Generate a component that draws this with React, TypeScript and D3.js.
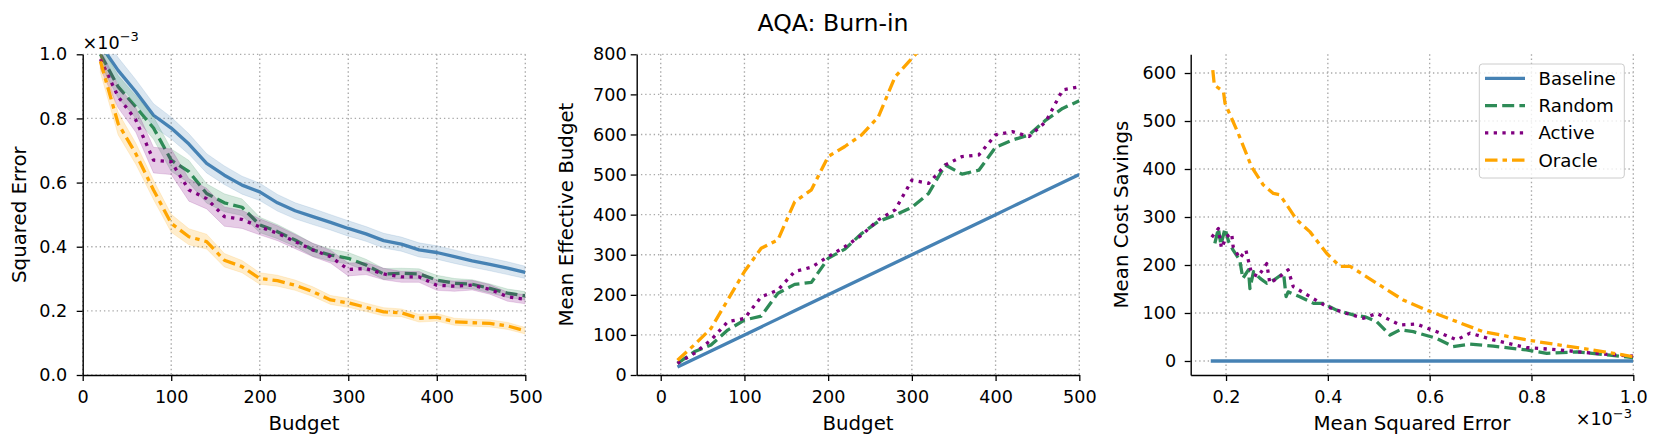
import React, { useEffect, useRef } from "react";
import * as d3 from "d3";

// budget steps (shared x for left and middle panels)
const budget = [20, 40, 60, 80, 100, 120, 140, 160, 180, 200, 220, 240, 260, 280, 300, 320, 340, 360, 380, 400, 420, 440, 460, 480, 500];

// left panel: squared error (x1e-3)
const seBaseline = [1.03, 0.95, 0.883, 0.81, 0.77, 0.72, 0.66, 0.623, 0.592, 0.571, 0.537, 0.512, 0.494, 0.476, 0.457, 0.44, 0.419, 0.408, 0.39, 0.382, 0.369, 0.356, 0.345, 0.333, 0.32];
const seRandom = [1.0, 0.899, 0.836, 0.77, 0.67, 0.634, 0.566, 0.537, 0.523, 0.468, 0.447, 0.421, 0.39, 0.374, 0.364, 0.343, 0.315, 0.317, 0.315, 0.296, 0.286, 0.283, 0.27, 0.255, 0.247];
const seActive = [0.985, 0.868, 0.795, 0.67, 0.665, 0.577, 0.55, 0.494, 0.485, 0.462, 0.442, 0.416, 0.39, 0.369, 0.329, 0.332, 0.315, 0.306, 0.306, 0.28, 0.277, 0.28, 0.267, 0.244, 0.236];
const seOracle = [0.978, 0.784, 0.69, 0.577, 0.473, 0.431, 0.416, 0.358, 0.338, 0.301, 0.294, 0.28, 0.26, 0.234, 0.225, 0.211, 0.197, 0.194, 0.177, 0.18, 0.166, 0.163, 0.161, 0.153, 0.138];

// half-widths of the shaded bands
const errBaseline = [0.04, 0.04, 0.038, 0.036, 0.034, 0.032, 0.03, 0.029, 0.028, 0.027, 0.026, 0.025, 0.025, 0.024, 0.024, 0.023, 0.023, 0.022, 0.022, 0.021, 0.021, 0.02, 0.02, 0.02, 0.019];
const errRandom = [0.03, 0.035, 0.035, 0.035, 0.035, 0.035, 0.03, 0.028, 0.026, 0.024, 0.022, 0.02, 0.02, 0.019, 0.018, 0.018, 0.017, 0.016, 0.016, 0.015, 0.015, 0.014, 0.014, 0.013, 0.013];
const errActive = [0.03, 0.035, 0.038, 0.04, 0.04, 0.035, 0.032, 0.03, 0.028, 0.025, 0.023, 0.022, 0.021, 0.02, 0.02, 0.019, 0.018, 0.017, 0.017, 0.016, 0.016, 0.015, 0.015, 0.014, 0.014];
const errOracle = [0.035, 0.035, 0.033, 0.03, 0.028, 0.025, 0.023, 0.021, 0.019, 0.018, 0.017, 0.016, 0.015, 0.014, 0.014, 0.013, 0.013, 0.012, 0.012, 0.012, 0.011, 0.011, 0.011, 0.011, 0.01];

// middle panel: mean effective budget
const ebBaseline = [20, 40, 60, 80, 100, 120, 140, 160, 180, 200, 220, 240, 260, 280, 300, 320, 340, 360, 380, 400, 420, 440, 460, 480, 500];
const ebRandom = [29, 58, 75, 112, 137, 147, 204, 226, 231, 291, 314, 353, 383, 399, 418, 453, 524, 501, 511, 568, 586, 599, 636, 665, 684];
const ebActive = [29, 54, 87, 133, 141, 195, 212, 258, 269, 295, 320, 349, 387, 412, 486, 478, 524, 545, 549, 599, 607, 595, 632, 711, 719];
const ebOracle = [37, 75, 116, 187, 258, 316, 337, 432, 462, 545, 570, 599, 644, 744, 790, 835];

// right panel: mean cost savings vs mean squared error (x1e-3)
const mseBaseline = [0.17, 1.0];
const csBaseline = [0, 0];
const mseRandom = [0.178, 0.185, 0.19, 0.198, 0.205, 0.214, 0.227, 0.233, 0.244, 0.247, 0.254, 0.267, 0.28, 0.296, 0.313, 0.318, 0.322, 0.345, 0.372, 0.391, 0.417, 0.45, 0.473, 0.496, 0.522, 0.542, 0.568, 0.614, 0.646, 0.679, 0.725, 0.79, 0.83, 0.889, 0.954, 1.0];
const csRandom = [245, 276, 242, 276, 249, 231, 210, 172, 190, 151, 186, 172, 162, 170, 183, 134, 144, 134, 120, 120, 106, 96, 92, 82, 54, 65, 61, 47, 30, 35, 31, 23, 16, 19, 12, 7];
const mseActive = [0.172, 0.185, 0.191, 0.201, 0.211, 0.214, 0.227, 0.239, 0.25, 0.263, 0.28, 0.286, 0.306, 0.322, 0.332, 0.365, 0.398, 0.437, 0.47, 0.496, 0.542, 0.574, 0.614, 0.653, 0.679, 0.725, 0.79, 0.856, 0.921, 1.0];
const csActive = [258, 276, 235, 259, 266, 238, 214, 231, 183, 176, 203, 162, 176, 190, 155, 134, 113, 99, 89, 99, 75, 77, 61, 44, 58, 44, 28, 23, 16, 10];
const mseOracle = [0.174, 0.177, 0.195, 0.198, 0.224, 0.25, 0.273, 0.293, 0.306, 0.339, 0.365, 0.398, 0.424, 0.444, 0.496, 0.548, 0.594, 0.646, 0.705, 0.79, 0.856, 0.921, 1.0];
const csOracle = [606, 575, 561, 537, 474, 405, 367, 349, 346, 294, 269, 224, 197, 197, 162, 127, 106, 85, 61, 44, 33, 23, 9];

const seriesNames = ["Baseline", "Random", "Active", "Oracle"];
const colors = { Baseline: "#4682b4", Random: "#2e8b57", Active: "#800080", Oracle: "#ffa500" };
const dashes = { Baseline: null, Random: "12,5.2", Active: "3.3,5.4", Oracle: "12.5,5,4.5,5" };

const FONT = "DejaVu Sans, sans-serif";
const TOP = 54.3;
const BOTTOM = 375;
const PW = 442.6;

const App = () => {
  const ref = useRef(null);

  useEffect(() => {
    const svg = d3.select(ref.current);
    svg.selectAll("*").remove();

    const drawPanel = (idx, left, xDomain, yDomain, xTicks, yTicks, xFmt, yFmt, yPad) => {
      const x = d3.scaleLinear().domain(xDomain).range([left, left + PW]);
      const y = d3.scaleLinear().domain(yDomain).range([BOTTOM, TOP]);
      const g = svg.append("g");

      svg
        .append("clipPath")
        .attr("id", "clip" + idx)
        .append("rect")
        .attr("x", left)
        .attr("y", TOP)
        .attr("width", PW)
        .attr("height", BOTTOM - TOP);

      // grid
      const grid = g.append("g").attr("stroke", "#a9a9a9").attr("stroke-width", 1.35).attr("stroke-dasharray", "1.35,2.9");
      xTicks.forEach((t) => {
        grid.append("line").attr("x1", x(t)).attr("x2", x(t)).attr("y1", TOP).attr("y2", BOTTOM);
      });
      yTicks.forEach((t) => {
        grid.append("line").attr("x1", left).attr("x2", left + PW).attr("y1", y(t)).attr("y2", y(t));
      });

      const xAxis = d3.axisBottom(x).tickValues(xTicks).tickFormat(xFmt).tickSize(6).tickSizeOuter(0).tickPadding(9.5);
      const yAxis = d3.axisLeft(y).tickValues(yTicks).tickFormat(yFmt).tickSize(6).tickSizeOuter(0).tickPadding(yPad);

      const ax = svg.append("g").attr("transform", `translate(0,${BOTTOM})`).call(xAxis);
      const ay = svg.append("g").attr("transform", `translate(${left},0)`).call(yAxis);
      [ax, ay].forEach((a) => {
        a.attr("font-family", FONT).attr("font-size", 17.6);
        a.selectAll("text").attr("fill", "#000");
        a.selectAll("line").attr("stroke", "#000").attr("stroke-width", 1.3);
        a.select(".domain").attr("stroke", "#000").attr("stroke-width", 1.4);
      });

      const plot = svg.append("g").attr("clip-path", `url(#clip${idx})`);
      return { x, y, plot };
    };

    const drawLine = (p, xs, ys, name) => {
      const line = d3
        .line()
        .x((d) => p.x(d[0]))
        .y((d) => p.y(d[1]));
      p.plot
        .append("path")
        .attr("d", line(xs.map((v, i) => [v, ys[i]])))
        .attr("fill", "none")
        .attr("stroke", colors[name])
        .attr("stroke-width", 3.3)
        .attr("stroke-dasharray", dashes[name])
        .attr("stroke-linejoin", "round");
    };

    const drawBand = (p, xs, ys, err, name) => {
      const area = d3
        .area()
        .x((d, i) => p.x(xs[i]))
        .y0((d, i) => p.y(ys[i] - err[i]))
        .y1((d, i) => p.y(ys[i] + err[i]));
      p.plot
        .append("path")
        .attr("d", area(xs))
        .attr("fill", colors[name])
        .attr("fill-opacity", 0.2)
        .attr("stroke", colors[name])
        .attr("stroke-opacity", 0.15);
    };

    const f1 = d3.format(".1f");
    const f0 = d3.format("d");

    // left panel
    const p1 = drawPanel(0, 82.7, [0, 500], [0, 1.0], [0, 100, 200, 300, 400, 500], [0, 0.2, 0.4, 0.6, 0.8, 1.0], f0, f1, 9.5);
    const se = [seBaseline, seRandom, seActive, seOracle];
    const errs = [errBaseline, errRandom, errActive, errOracle];
    seriesNames.forEach((n, i) => {
      drawBand(p1, budget, se[i], errs[i], n);
      drawLine(p1, budget, se[i], n);
    });

    // middle panel
    const p2 = drawPanel(1, 636.7, [-28.7, 500], [0, 800], [0, 100, 200, 300, 400, 500], [0, 100, 200, 300, 400, 500, 600, 700, 800], f0, f0, 4);
    const eb = [ebBaseline, ebRandom, ebActive, ebOracle];
    seriesNames.forEach((n, i) => {
      drawLine(p2, budget.slice(0, eb[i].length), eb[i], n);
    });

    // right panel
    const p3 = drawPanel(2, 1190.7, [0.1306, 1.0], [-29.2, 639], [0.2, 0.4, 0.6, 0.8, 1.0], [0, 100, 200, 300, 400, 500, 600], f1, f0, 8.5);
    const mse = [mseBaseline, mseRandom, mseActive, mseOracle];
    const cs = [csBaseline, csRandom, csActive, csOracle];
    seriesNames.forEach((n, i) => {
      drawLine(p3, mse[i], cs[i], n);
    });

    // axis labels
    const label = (x, y, txt, rot) => {
      const t = svg
        .append("text")
        .attr("font-family", FONT)
        .attr("font-size", 19.8)
        .attr("text-anchor", "middle")
        .text(txt);
      if (rot) t.attr("transform", `translate(${x},${y}) rotate(-90)`);
      else t.attr("x", x).attr("y", y);
    };
    label(304, 429.5, "Budget", false);
    label(858, 429.5, "Budget", false);
    label(1412, 429.5, "Mean Squared Error", false);
    label(25.5, 214.6, "Squared Error", true);
    label(573, 214.6, "Mean Effective Budget", true);
    label(1127.5, 214.6, "Mean Cost Savings", true);

    // offset text x10^-3
    const offset = (x, y, anchor) => {
      const t = svg
        .append("text")
        .attr("font-family", FONT)
        .attr("font-size", 17.6)
        .attr("x", x)
        .attr("y", y)
        .attr("text-anchor", anchor);
      t.append("tspan").text("×10");
      t.append("tspan").attr("dy", -7.5).attr("font-size", 13).text("−3");
    };
    offset(82.5, 48.5, "start");
    offset(1632, 425, "end");

    // title
    svg
      .append("text")
      .attr("x", 833)
      .attr("y", 31)
      .attr("text-anchor", "middle")
      .attr("font-family", FONT)
      .attr("font-size", 23.6)
      .text("AQA: Burn-in");

    // legend
    const lg = svg.append("g");
    lg.append("rect")
      .attr("x", 1479.3)
      .attr("y", 64)
      .attr("width", 145)
      .attr("height", 114)
      .attr("rx", 3)
      .attr("fill", "#fff")
      .attr("fill-opacity", 0.8)
      .attr("stroke", "#cccccc")
      .attr("stroke-width", 1);
    seriesNames.forEach((n, i) => {
      const yy = 78.3 + i * 27.3;
      lg.append("line")
        .attr("x1", 1485)
        .attr("x2", 1525)
        .attr("y1", yy)
        .attr("y2", yy)
        .attr("stroke", colors[n])
        .attr("stroke-width", 3.3)
        .attr("stroke-dasharray", dashes[n]);
      lg.append("text")
        .attr("x", 1538.5)
        .attr("y", yy + 6.5)
        .attr("font-family", FONT)
        .attr("font-size", 18.2)
        .text(n);
    });
  }, []);

  return (
    <svg
      ref={ref}
      width={1661}
      height={446}
      style={{ position: "absolute", left: 0, top: 0, background: "#fff" }}
    />
  );
};

export default App;
